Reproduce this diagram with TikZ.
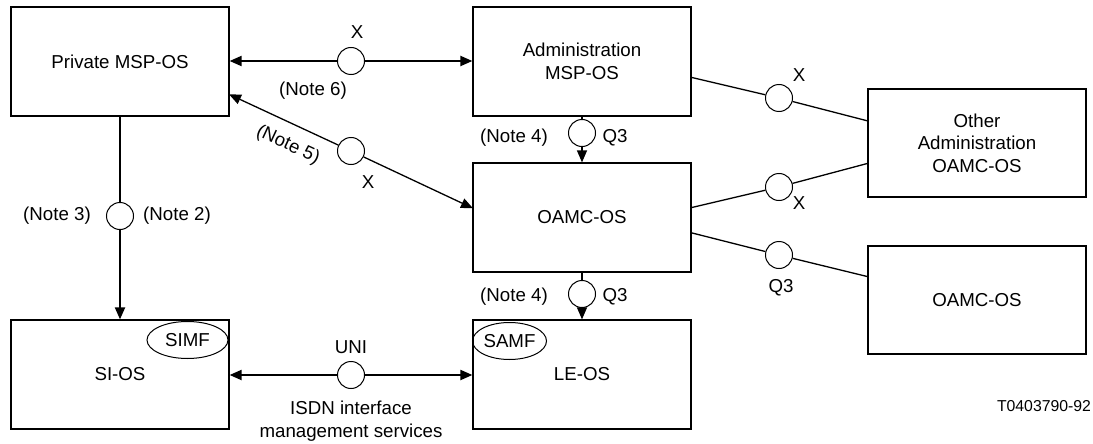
\documentclass[tikz,border=0pt]{standalone}
\usepackage{fontspec}
\setmainfont{Liberation Sans}
\usetikzlibrary{arrows.meta,calc,shapes.geometric}
\begin{document}
\begin{tikzpicture}[x=1pt,y=-1pt,
  every node/.style={font=\fontsize{18.7}{22.5}\selectfont},
  box/.style={draw,line width=1.2pt,minimum width=218pt,minimum height=109pt,inner sep=0pt,align=center},
  iface/.style={draw,circle,line width=1pt,minimum size=27pt,inner sep=0pt},
  lbl/.style={inner sep=0pt},
  tharrow/.style={line width=2pt,-{Triangle[length=12pt,width=10pt]}},
  tnarrow/.style={line width=1.3pt,-{Triangle[length=12pt,width=10pt]}},
  thline/.style={line width=2pt},
  tnline/.style={line width=1.3pt},
  fn/.style={draw,ellipse,line width=1pt,inner sep=0pt,minimum height=37pt}
]
\useasboundingbox (0,0) rectangle (1093,444);

% boxes
\node[box] (pmsp)  at (120,61.5)  {Private MSP-OS};
\node[box] (amsp)  at (582,61.5)  {Administration\\MSP-OS};
\node[box] (oamc)  at (582,217.5) {OAMC-OS};
\node[box,minimum height=108pt] (oadm) at (977,143) {Other\\Administration\\OAMC-OS};
\node[box,minimum height=108pt] (oamc2) at (977,300) {OAMC-OS};
\node[box] (sios)  at (120,374.5) {SI-OS};
\node[box] (leos)  at (582,374.5) {LE-OS};

% function ellipses
\node[fn,minimum width=81pt] (simf) at (187.5,340) {SIMF};
\node[fn,minimum width=74pt] (samf) at (509.5,341) {SAMF};

% interface circles
\node[iface] (cX1) at (351,61) {};
\node[iface] (cX2) at (351,151) {};
\node[iface] (cN)  at (120,216) {};
\node[iface] (cQa) at (582,133) {};
\node[iface] (cQb) at (582,294) {};
\node[iface] (cU)  at (351,375) {};
\node[iface] (cR1) at (779,98) {};
\node[iface] (cR2) at (779,187) {};
\node[iface] (cR3) at (779,255) {};

% border points
\coordinate (d1) at (229,94.3);
\coordinate (d2) at (473,208.3);
\coordinate (r1a) at (691,77.3);
\coordinate (r1b) at (868,121);
\coordinate (r2a) at (691,207.7);
\coordinate (r2b) at (868,163.3);
\coordinate (r3a) at (691,232.7);
\coordinate (r3b) at (868,276.7);

% connectors
\draw[tharrow] (cX1) -- (cX1 -| pmsp.east);
\draw[tharrow] (cX1) -- (cX1 -| amsp.west);
\draw[tnarrow] (cX2) -- (d1);
\draw[tnarrow] (cX2) -- (d2);
\draw[thline] (pmsp.south) -- (cN);
\draw[tharrow] (cN) -- (sios.north);
\draw[tnline] (amsp.south) -- (cQa);
\draw[tnarrow] (cQa) -- (oamc.north);
\draw[tnline] (oamc.south) -- (cQb);
\draw[tnarrow] (cQb) -- (leos.north);
\draw[tharrow] (cU) -- (cU -| sios.east);
\draw[tharrow] (cU) -- (cU -| leos.west);
\draw[tnline] (r1a) -- (cR1) -- (r1b);
\draw[tnline] (r2a) -- (cR2) -- (r2b);
\draw[tnline] (r3a) -- (cR3) -- (r3b);

% labels
\node[lbl] (lX1) at (357,32) {X};
\node[lbl] (lN6) at (313,91) {(Note 6)};
\node[lbl,rotate=-25] (lN5) at (288,145) {(Note 5)};
\node[lbl] (lX2) at (368,182) {X};
\node[lbl] (lN3) at (57,216) {(Note 3)};
\node[lbl] (lN2) at (177,216) {(Note 2)};
\node[lbl] (lN4a) at (514,138) {(Note 4)};
\node[lbl] (lQa) at (615,138) {Q3};
\node[lbl] (lN4b) at (514,297) {(Note 4)};
\node[lbl] (lQb) at (615,297) {Q3};
\node[lbl] (lXr1) at (799,75) {X};
\node[lbl] (lXr2) at (799,203) {X};
\node[lbl] (lQr) at (781,288) {Q3};
\node[lbl] (lUNI) at (351,347) {UNI};
\node[lbl,align=center] (lISDN) at (351,421) {ISDN interface\\management services};
\node[lbl,font=\fontsize{15.8}{19}\selectfont] (lT) at (1044,406) {T0403790-92};
\end{tikzpicture}
\end{document}
